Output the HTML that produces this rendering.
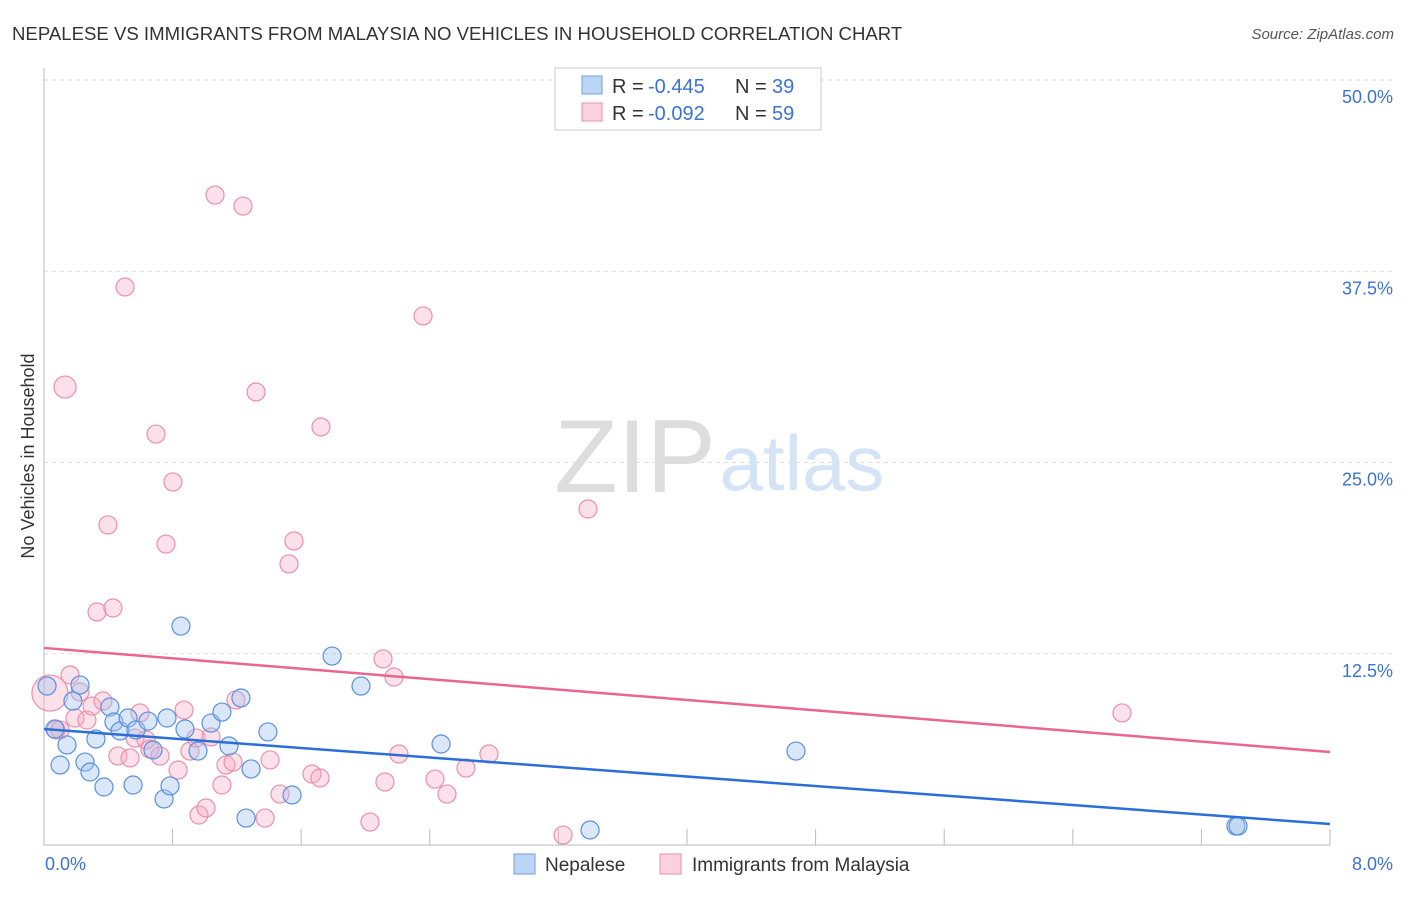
<!DOCTYPE html>
<html><head><meta charset="utf-8"><style>
body{margin:0;background:#fff;font-family:"Liberation Sans",sans-serif;}
svg text{font-family:"Liberation Sans",sans-serif;}
</style></head><body>
<svg width="1406" height="892" xmlns="http://www.w3.org/2000/svg">
<text x="12" y="40" font-size="18.6" fill="#333">NEPALESE VS IMMIGRANTS FROM MALAYSIA NO VEHICLES IN HOUSEHOLD CORRELATION CHART</text>
<text x="1394" y="39" font-size="15" fill="#555" font-style="italic" text-anchor="end">Source: ZipAtlas.com</text>
<g>
<text x="635" y="492" font-size="104" fill="#ddd" font-family="Liberation Serif" text-anchor="middle">ZIP</text>
<text x="802" y="490" font-size="78" fill="#d4e3f6" text-anchor="middle">atlas</text>
</g>
<g id="grid"></g>
<g id="axes"></g>
<g id="marks"></g>
<text transform="translate(34,456) rotate(-90)" font-size="18" fill="#333" text-anchor="middle">No Vehicles in Household</text>
<g>
<rect x="555" y="68" width="266" height="62" fill="#fff" stroke="#ccc"/>
<rect x="582" y="76" width="20" height="18" fill="#bcd5f5" stroke="#6fa0e0"/>
<rect x="582" y="103" width="20" height="18" fill="#fcd0dd" stroke="#eb8fac"/>
<text x="612" y="93" font-size="20" fill="#333">R =</text>
<text x="648" y="93" font-size="20" fill="#3b73d1">-0.445</text>
<text x="735" y="93" font-size="20" fill="#333">N =</text>
<text x="772" y="93" font-size="20" fill="#3b73d1">39</text>
<text x="612" y="120" font-size="20" fill="#333">R =</text>
<text x="648" y="120" font-size="20" fill="#3b73d1">-0.092</text>
<text x="735" y="120" font-size="20" fill="#333">N =</text>
<text x="772" y="120" font-size="20" fill="#3b73d1">59</text>
</g>
<g>
<rect x="514" y="854" width="21" height="20" fill="#bcd5f5" stroke="#6fa0e0"/>
<text x="545" y="871" font-size="19" fill="#333">Nepalese</text>
<rect x="660" y="854" width="21" height="20" fill="#fcd0dd" stroke="#eb8fac"/>
<text x="692" y="871" font-size="19" fill="#333">Immigrants from Malaysia</text>
</g>
</svg>
<script>
const blueX=[0.019,0.068,0.10,0.143,0.18,0.224,0.255,0.286,0.323,0.373,0.41,0.435,0.473,0.523,0.554,0.572,0.647,0.678,0.747,0.765,0.784,0.852,0.877,0.958,1.039,1.107,1.151,1.225,1.257,1.288,1.393,1.543,1.792,1.972,2.47,3.397,4.678,7.415,7.428];
const blueY=[10.39,7.58,5.23,6.54,9.41,10.46,5.42,4.77,6.93,3.79,9.02,8.04,7.45,8.30,3.92,7.52,8.10,6.21,3.01,8.30,3.86,14.31,7.58,6.14,7.97,8.69,6.47,9.61,1.76,4.97,7.39,3.27,12.35,10.39,6.60,0.98,6.14,1.24,1.24];
const pinkX=[0.037,0.075,0.131,0.162,0.193,0.224,0.267,0.299,0.33,0.367,0.398,0.429,0.46,0.504,0.535,0.566,0.597,0.635,0.659,0.697,0.722,0.759,0.802,0.834,0.871,0.908,0.946,0.964,1.008,1.039,1.064,1.107,1.132,1.176,1.194,1.238,1.319,1.375,1.406,1.468,1.524,1.555,1.667,1.717,1.723,2.028,2.109,2.121,2.177,2.208,2.358,2.432,2.507,2.625,2.768,3.229,3.384,6.706,0.1];
const pinkY=[9.93,7.52,29.93,11.11,8.30,10.0,8.17,9.08,15.23,9.41,20.92,15.49,5.82,36.47,5.69,6.99,8.63,6.86,6.27,26.86,5.82,19.67,23.73,4.90,8.82,6.14,6.99,1.96,2.42,7.06,42.48,3.92,5.23,5.42,9.48,41.76,29.61,1.76,5.56,3.33,18.37,19.87,4.64,4.38,27.32,1.50,12.16,4.12,10.98,5.95,34.58,4.31,3.33,5.03,5.95,0.65,21.96,8.63,7.52];
const pinkSize=[18,9,11];
const blueTrend=[7.58,1.37];
const pinkTrend=[12.88,6.08];
const yTicks=[12.5,25,37.5,50];
const yTickLabels=["12.5%","25.0%","37.5%","50.0%"];
const xTickLabels=["0.0%","8.0%"];
const NS="http://www.w3.org/2000/svg";
const X0=44,X1=1330,Y0=845;
const sx=v=>X0+v/8*(X1-X0);
const sy=v=>Y0-v*15.3;
function mk(tag,attrs,parent){const e=document.createElementNS(NS,tag);for(const k in attrs)e.setAttribute(k,attrs[k]);document.getElementById(parent).appendChild(e);return e;}
yTicks.forEach((t,i)=>{
 const g=mk('line',{x1:X0,x2:1394,y1:sy(t),y2:sy(t),stroke:'#ddd','stroke-dasharray':'4,4'},'grid');
 
 
 const l=mk('text',{x:1393,y:sy(t)+23,'font-size':18,fill:'#3b73d1','text-anchor':'end'},'axes');
 l.textContent=yTickLabels[i];
 
 
});
const ax=mk('line',{x1:X0,x2:X0,y1:68,y2:Y0,stroke:'#bbb'},'axes');


const bx=mk('line',{x1:X0,x2:X1,y1:Y0,y2:Y0,stroke:'#bbb'},'axes');


for(let k=0;k<=10;k++){const x=X0+k*(X1-X0)/10;const t=mk('line',{x1:x,x2:x,y1:829,y2:Y0,stroke:'#bbb'},'axes');
 
 }
[[X0+1,'start'],[1393,'end']].forEach((p,i)=>{const t=mk('text',{x:p[0],y:870,'font-size':18,fill:'#3b73d1','text-anchor':p[1]},'axes');t.textContent=xTickLabels[i];
 
 });
pinkX.forEach((x,i)=>{const c=mk('circle',{cx:sx(x),cy:sy(pinkY[i]),r:pinkSize[i]||9,fill:'rgba(248,170,195,0.35)',stroke:'#eb8fac','stroke-width':1.2},'marks');
 
 });
blueX.forEach((x,i)=>{const c=mk('circle',{cx:sx(x),cy:sy(blueY[i]),r:9,fill:'rgba(160,195,240,0.4)',stroke:'#5a90dd','stroke-width':1.2},'marks');
 
 });
const tb=mk('line',{x1:sx(0),x2:sx(8),y1:sy(blueTrend[0]),y2:sy(blueTrend[1]),stroke:'#2a6fd8','stroke-width':2.5},'marks');


const tp=mk('line',{x1:sx(0),x2:sx(8),y1:sy(pinkTrend[0]),y2:sy(pinkTrend[1]),stroke:'#e8668f','stroke-width':2.5},'marks');


</script>
</body></html>
